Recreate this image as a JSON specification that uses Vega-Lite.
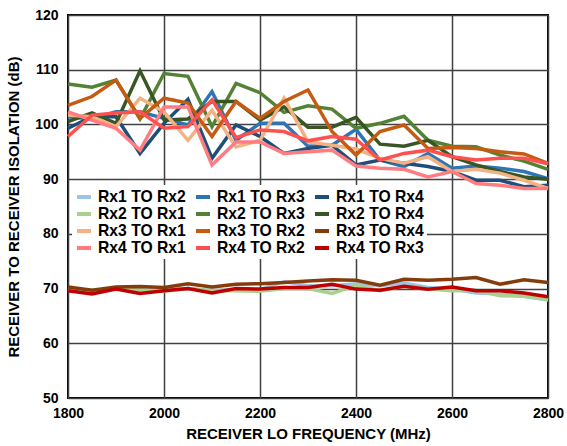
{
  "$schema": "https://vega.github.io/schema/vega-lite/v6.json",
  "width": 480,
  "height": 383,
  "autosize": {"type": "none"},
  "padding": {"left": 68, "top": 15, "right": 19, "bottom": 48},
  "background": "white",
  "config": {
    "font": "Liberation Sans",
    "view": {"stroke": "black", "strokeWidth": 2},
    "axis": {
      "labelFontWeight": "bold", "labelFontSize": 14, "labelColor": "black",
      "titleFontWeight": "bold", "titleFontSize": 15, "titleColor": "black",
      "gridColor": "#404040", "gridWidth": 1.5, "gridOpacity": 1,
      "domain": false, "ticks": false
    }
  },
  "data": {"values": [
    {"f":1800,"Rx1 TO Rx2":69.8,"Rx1 TO Rx3":101.4,"Rx1 TO Rx4":99.3,"Rx2 TO Rx1":69.8,"Rx2 TO Rx3":107.4,"Rx2 TO Rx4":100.5,"Rx3 TO Rx1":101.7,"Rx3 TO Rx2":103.5,"Rx3 TO Rx4":70.3,"Rx4 TO Rx1":102.3,"Rx4 TO Rx2":97.8,"Rx4 TO Rx3":69.6},
    {"f":1850,"Rx1 TO Rx2":69.3,"Rx1 TO Rx3":101.0,"Rx1 TO Rx4":101.4,"Rx2 TO Rx1":69.4,"Rx2 TO Rx3":106.8,"Rx2 TO Rx4":102.1,"Rx3 TO Rx1":101.4,"Rx3 TO Rx2":105.1,"Rx3 TO Rx4":69.7,"Rx4 TO Rx1":100.8,"Rx4 TO Rx2":101.7,"Rx4 TO Rx3":69.0},
    {"f":1900,"Rx1 TO Rx2":70.0,"Rx1 TO Rx3":102.3,"Rx1 TO Rx4":101.4,"Rx2 TO Rx1":70.1,"Rx2 TO Rx3":108.1,"Rx2 TO Rx4":100.2,"Rx3 TO Rx1":99.6,"Rx3 TO Rx2":108.1,"Rx3 TO Rx4":70.3,"Rx4 TO Rx1":99.3,"Rx4 TO Rx2":102.1,"Rx4 TO Rx3":69.9},
    {"f":1950,"Rx1 TO Rx2":69.7,"Rx1 TO Rx3":102.3,"Rx1 TO Rx4":94.7,"Rx2 TO Rx1":69.8,"Rx2 TO Rx3":101.0,"Rx2 TO Rx4":109.8,"Rx3 TO Rx1":104.8,"Rx3 TO Rx2":101.1,"Rx3 TO Rx4":70.4,"Rx4 TO Rx1":95.3,"Rx4 TO Rx2":102.3,"Rx4 TO Rx3":69.1},
    {"f":2000,"Rx1 TO Rx2":69.8,"Rx1 TO Rx3":101.1,"Rx1 TO Rx4":100.2,"Rx2 TO Rx1":69.5,"Rx2 TO Rx3":109.3,"Rx2 TO Rx4":100.8,"Rx3 TO Rx1":102.3,"Rx3 TO Rx2":104.8,"Rx3 TO Rx4":70.2,"Rx4 TO Rx1":103.2,"Rx4 TO Rx2":99.3,"Rx4 TO Rx3":69.6},
    {"f":2050,"Rx1 TO Rx2":70.0,"Rx1 TO Rx3":99.9,"Rx1 TO Rx4":104.6,"Rx2 TO Rx1":70.0,"Rx2 TO Rx3":108.8,"Rx2 TO Rx4":101.0,"Rx3 TO Rx1":97.1,"Rx3 TO Rx2":103.9,"Rx3 TO Rx4":70.9,"Rx4 TO Rx1":103.2,"Rx4 TO Rx2":99.6,"Rx4 TO Rx3":70.0},
    {"f":2100,"Rx1 TO Rx2":69.6,"Rx1 TO Rx3":106.0,"Rx1 TO Rx4":93.8,"Rx2 TO Rx1":69.6,"Rx2 TO Rx3":99.6,"Rx2 TO Rx4":104.2,"Rx3 TO Rx1":102.6,"Rx3 TO Rx2":97.8,"Rx3 TO Rx4":70.3,"Rx4 TO Rx1":92.6,"Rx4 TO Rx2":104.5,"Rx4 TO Rx3":69.2},
    {"f":2150,"Rx1 TO Rx2":69.8,"Rx1 TO Rx3":97.1,"Rx1 TO Rx4":99.9,"Rx2 TO Rx1":69.6,"Rx2 TO Rx3":107.5,"Rx2 TO Rx4":104.2,"Rx3 TO Rx1":95.9,"Rx3 TO Rx2":104.2,"Rx3 TO Rx4":70.8,"Rx4 TO Rx1":96.8,"Rx4 TO Rx2":97.6,"Rx4 TO Rx3":70.0},
    {"f":2200,"Rx1 TO Rx2":69.8,"Rx1 TO Rx3":100.2,"Rx1 TO Rx4":97.8,"Rx2 TO Rx1":69.5,"Rx2 TO Rx3":105.8,"Rx2 TO Rx4":100.8,"Rx3 TO Rx1":97.1,"Rx3 TO Rx2":101.1,"Rx3 TO Rx4":70.9,"Rx4 TO Rx1":96.8,"Rx4 TO Rx2":99.0,"Rx4 TO Rx3":69.9},
    {"f":2250,"Rx1 TO Rx2":71.3,"Rx1 TO Rx3":100.2,"Rx1 TO Rx4":94.7,"Rx2 TO Rx1":70.0,"Rx2 TO Rx3":102.2,"Rx2 TO Rx4":103.2,"Rx3 TO Rx1":104.8,"Rx3 TO Rx2":104.2,"Rx3 TO Rx4":71.1,"Rx4 TO Rx1":94.7,"Rx4 TO Rx2":98.7,"Rx4 TO Rx3":70.2},
    {"f":2300,"Rx1 TO Rx2":70.5,"Rx1 TO Rx3":96.0,"Rx1 TO Rx4":95.6,"Rx2 TO Rx1":70.0,"Rx2 TO Rx3":103.4,"Rx2 TO Rx4":99.5,"Rx3 TO Rx1":96.8,"Rx3 TO Rx2":106.3,"Rx3 TO Rx4":71.4,"Rx4 TO Rx1":95.0,"Rx4 TO Rx2":97.0,"Rx4 TO Rx3":70.2},
    {"f":2350,"Rx1 TO Rx2":70.5,"Rx1 TO Rx3":96.2,"Rx1 TO Rx4":96.2,"Rx2 TO Rx1":69.1,"Rx2 TO Rx3":102.8,"Rx2 TO Rx4":99.5,"Rx3 TO Rx1":96.2,"Rx3 TO Rx2":98.7,"Rx3 TO Rx4":71.6,"Rx4 TO Rx1":95.3,"Rx4 TO Rx2":97.8,"Rx4 TO Rx3":70.8},
    {"f":2400,"Rx1 TO Rx2":70.9,"Rx1 TO Rx3":99.1,"Rx1 TO Rx4":92.6,"Rx2 TO Rx1":70.6,"Rx2 TO Rx3":99.3,"Rx2 TO Rx4":101.3,"Rx3 TO Rx1":95.5,"Rx3 TO Rx2":94.4,"Rx3 TO Rx4":71.5,"Rx4 TO Rx1":92.4,"Rx4 TO Rx2":97.3,"Rx4 TO Rx3":69.9},
    {"f":2450,"Rx1 TO Rx2":70.5,"Rx1 TO Rx3":93.5,"Rx1 TO Rx4":93.5,"Rx2 TO Rx1":69.6,"Rx2 TO Rx3":100.2,"Rx2 TO Rx4":96.4,"Rx3 TO Rx1":93.8,"Rx3 TO Rx2":98.7,"Rx3 TO Rx4":70.6,"Rx4 TO Rx1":92.0,"Rx4 TO Rx2":93.5,"Rx4 TO Rx3":69.7},
    {"f":2500,"Rx1 TO Rx2":71.0,"Rx1 TO Rx3":92.3,"Rx1 TO Rx4":92.9,"Rx2 TO Rx1":70.4,"Rx2 TO Rx3":101.5,"Rx2 TO Rx4":96.0,"Rx3 TO Rx1":92.9,"Rx3 TO Rx2":99.9,"Rx3 TO Rx4":71.7,"Rx4 TO Rx1":91.8,"Rx4 TO Rx2":94.7,"Rx4 TO Rx3":70.4},
    {"f":2550,"Rx1 TO Rx2":70.2,"Rx1 TO Rx3":94.7,"Rx1 TO Rx4":92.3,"Rx2 TO Rx1":69.9,"Rx2 TO Rx3":97.1,"Rx2 TO Rx4":97.1,"Rx3 TO Rx1":94.1,"Rx3 TO Rx2":95.6,"Rx3 TO Rx4":71.5,"Rx4 TO Rx1":90.4,"Rx4 TO Rx2":95.3,"Rx4 TO Rx3":69.9},
    {"f":2600,"Rx1 TO Rx2":69.9,"Rx1 TO Rx3":92.0,"Rx1 TO Rx4":91.4,"Rx2 TO Rx1":69.6,"Rx2 TO Rx3":96.0,"Rx2 TO Rx4":94.1,"Rx3 TO Rx1":91.4,"Rx3 TO Rx2":95.8,"Rx3 TO Rx4":71.7,"Rx4 TO Rx1":91.4,"Rx4 TO Rx2":94.1,"Rx4 TO Rx3":70.3},
    {"f":2650,"Rx1 TO Rx2":69.2,"Rx1 TO Rx3":92.4,"Rx1 TO Rx4":89.8,"Rx2 TO Rx1":69.7,"Rx2 TO Rx3":95.9,"Rx2 TO Rx4":92.6,"Rx3 TO Rx1":91.8,"Rx3 TO Rx2":95.6,"Rx3 TO Rx4":72.0,"Rx4 TO Rx1":89.2,"Rx4 TO Rx2":93.5,"Rx4 TO Rx3":69.6},
    {"f":2700,"Rx1 TO Rx2":69.0,"Rx1 TO Rx3":92.0,"Rx1 TO Rx4":89.8,"Rx2 TO Rx1":68.7,"Rx2 TO Rx3":94.4,"Rx2 TO Rx4":91.4,"Rx3 TO Rx1":91.1,"Rx3 TO Rx2":95.0,"Rx3 TO Rx4":70.8,"Rx4 TO Rx1":88.9,"Rx4 TO Rx2":93.8,"Rx4 TO Rx3":69.6},
    {"f":2750,"Rx1 TO Rx2":68.6,"Rx1 TO Rx3":91.4,"Rx1 TO Rx4":88.6,"Rx2 TO Rx1":68.6,"Rx2 TO Rx3":93.3,"Rx2 TO Rx4":90.4,"Rx3 TO Rx1":89.8,"Rx3 TO Rx2":94.6,"Rx3 TO Rx4":71.6,"Rx4 TO Rx1":88.3,"Rx4 TO Rx2":93.8,"Rx4 TO Rx3":69.2},
    {"f":2800,"Rx1 TO Rx2":67.9,"Rx1 TO Rx3":90.1,"Rx1 TO Rx4":88.9,"Rx2 TO Rx1":68.0,"Rx2 TO Rx3":91.8,"Rx2 TO Rx4":90.0,"Rx3 TO Rx1":88.3,"Rx3 TO Rx2":92.9,"Rx3 TO Rx4":71.1,"Rx4 TO Rx1":88.3,"Rx4 TO Rx2":92.8,"Rx4 TO Rx3":68.5}
  ]},
  "transform": [
    {"fold": ["Rx1 TO Rx2","Rx1 TO Rx3","Rx1 TO Rx4","Rx2 TO Rx1","Rx2 TO Rx3","Rx2 TO Rx4","Rx3 TO Rx1","Rx3 TO Rx2","Rx3 TO Rx4","Rx4 TO Rx1","Rx4 TO Rx2","Rx4 TO Rx3"], "as": ["series", "value"]}
  ],
  "mark": {"type": "line", "strokeWidth": 3.5, "strokeJoin": "miter"},
  "encoding": {
    "x": {"field": "f", "type": "quantitative", "title": "RECEIVER LO FREQUENCY (MHz)",
      "scale": {"domain": [1800, 2800], "nice": false},
      "axis": {"values": [1800, 2000, 2200, 2400, 2600, 2800], "format": "d", "labelPadding": 8, "titlePadding": 6, "labelFlush": false}},
    "y": {"field": "value", "type": "quantitative", "title": "RECEIVER TO RECEIVER ISOLATION (dB)",
      "scale": {"domain": [50, 120], "nice": false, "zero": false},
      "axis": {"values": [50, 60, 70, 80, 90, 100, 110, 120], "labelPadding": 10, "titlePadding": 13}},
    "color": {"field": "series", "type": "nominal",
      "scale": {
        "domain": ["Rx1 TO Rx2","Rx1 TO Rx3","Rx1 TO Rx4","Rx2 TO Rx1","Rx2 TO Rx3","Rx2 TO Rx4","Rx3 TO Rx1","Rx3 TO Rx2","Rx3 TO Rx4","Rx4 TO Rx1","Rx4 TO Rx2","Rx4 TO Rx3"],
        "range": ["#9DC3E6","#2E75B6","#1F4E79","#A9D18E","#548235","#375623","#F4B183","#C55A11","#843C0C","#FF7C80","#FF5050","#C00000"]
      },
      "legend": {
        "orient": "none", "legendX": 4, "legendY": 170, "title": null,
        "direction": "horizontal",
        "columns": 3, "columnPadding": 2, "rowPadding": 0,
        "symbolType": "stroke", "symbolSize": 196, "symbolStrokeWidth": 4,
        "labelFontSize": 15.7, "labelFontWeight": "bold", "labelColor": "black", "labelOffset": 5,
        "fillColor": "white", "padding": 3
      }
    }
  }
}
